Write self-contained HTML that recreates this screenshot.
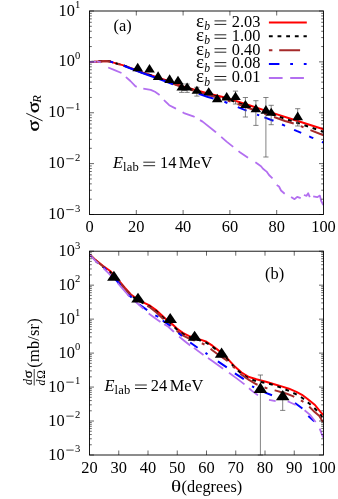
<!DOCTYPE html>
<html><head><meta charset="utf-8"><title>chart</title>
<style>svg{will-change:transform}html,body{margin:0;padding:0;background:#fff;}body{width:338px;height:499px;overflow:hidden;font-family:"Liberation Serif",serif;}</style>
</head><body>
<svg width="338" height="499" viewBox="0 0 338 499" style="display:block">
<rect width="338" height="499" fill="#fff"/>
<path d="M89.9 61.9 L94.0 61.8 L98.0 61.6 L102.0 61.2 L106.9 61.0 L110.5 61.6 L113.4 62.6 L123.5 65.4 L142.4 72.5 L166.0 80.3 L183.0 86.5 L208.0 93.5 L225.0 97.5 L250.0 105.5 L270.0 112.1 L297.0 120.8 L323.5 129.3" fill="none" stroke="#ff0000" stroke-width="2.0" stroke-linejoin="round" />
<path d="M89.9 61.9 L94.0 61.8 L98.0 61.6 L102.0 61.2 L106.9 61.0 L110.5 61.6 L113.4 62.6 L123.5 65.4 L142.4 72.6 L166.0 80.6 L183.0 87.0 L208.0 94.2 L225.0 98.5 L250.0 107.0 L270.0 113.8 L297.0 122.7 L323.5 131.8" fill="none" stroke="#000000" stroke-width="2.0" stroke-dasharray="3.8 4.85" stroke-linejoin="round" />
<path d="M89.9 61.9 L94.0 61.8 L98.0 61.6 L102.0 61.2 L106.9 61.0 L110.5 61.6 L113.4 62.6 L123.5 65.5 L142.4 72.8 L166.0 81.0 L183.0 87.5 L208.0 95.0 L225.0 99.5 L250.0 108.5 L270.0 115.5 L285.0 121.0 L297.0 124.5 L310.0 130.0 L323.5 135.2" fill="none" stroke="#a52a2a" stroke-width="2.0" stroke-dasharray="20.7 7.5 3 7.5" stroke-linejoin="round" />
<path d="M110.4 61.6 L110.5 61.6 L113.2 62.5M123.7 65.7 L142.4 73.0 L166.0 81.5 L173.0 84.4M183.0 88.5 L185.5 89.3M198.7 93.8 L208.0 97.0 L213.5 98.6M224.4 101.8 L225.0 102.0 L227.4 103.0M237.8 107.1 L246.6 110.6M257.0 114.6 L259.2 115.4M264.4 117.4 L272.0 120.2 L273.5 120.8M282.0 124.5 L283.7 125.2 L285.0 125.8M294.1 129.8 L297.2 131.2 L301.2 132.9M309.2 136.4 L311.2 137.3 L313.3 138.2M321.9 141.9 L323.5 142.6" fill="none" stroke="#0000ff" stroke-width="2.0" stroke-linejoin="round"/>
<path d="M89.9 61.9 L94.0 61.8 L96.4 61.7M97.1 61.7 L98.0 61.7 L100.8 62.3M108.2 67.5 L114.0 69.8 L121.5 73.0M125.9 77.0 L126.0 77.1 L130.4 81.0 L135.3 86.2 L136.7 86.8M143.3 88.7 L150.7 89.9 L155.0 91.8 L159.6 94.9M164.0 100.0 L164.8 100.9 L169.2 105.2 L175.4 108.4 L176.0 108.7M182.6 112.2 L184.0 113.1 L193.3 116.3 L194.6 117.0M200.0 120.1 L202.6 121.6 L215.9 132.3 L216.0 132.4M221.2 136.9 L226.6 141.6 L233.2 146.9M238.5 151.1 L239.9 152.2 L248.0 157.8M255.4 162.3 L261.0 166.2 L263.0 168.8 L266.6 171.6 L269.0 175.0 L272.5 178.3M276.7 185.0 L279.0 186.5 L281.0 190.5 L284.7 193.7M291.1 196.9 L294.6 199.2 L297.2 196.8 L300.7 198.2M303.9 195.0 L306.6 195.8 L308.2 193.3 L309.8 197.2M313.2 196.4 L317.2 197.2 L319.9 195.6 L321.2 201.0 L323.3 205.0" fill="none" stroke="#b36ff0" stroke-width="1.8" stroke-linejoin="round"/>
<path d="M181.7 84.0V92.4M179.1 84.0h5.2M179.1 92.4h5.2" stroke="#5a5a5a" stroke-width="0.75" fill="none"/>
<path d="M187.1 84.0V92.4M184.5 84.0h5.2M184.5 92.4h5.2" stroke="#5a5a5a" stroke-width="0.75" fill="none"/>
<path d="M196.9 87.3V96.1M194.3 87.3h5.2M194.3 96.1h5.2" stroke="#5a5a5a" stroke-width="0.75" fill="none"/>
<path d="M235.5 91.1V104.0M232.9 91.1h5.2M232.9 104.0h5.2" stroke="#5a5a5a" stroke-width="0.75" fill="none"/>
<path d="M245.4 97.5V117.0M242.8 97.5h5.2M242.8 117.0h5.2" stroke="#5a5a5a" stroke-width="0.75" fill="none"/>
<path d="M255.9 100.7V125.4M253.3 100.7h5.2M253.3 125.4h5.2" stroke="#5a5a5a" stroke-width="0.75" fill="none"/>
<path d="M265.9 97.5V157.0M263.3 97.5h5.2M263.3 157.0h5.2" stroke="#5a5a5a" stroke-width="0.75" fill="none"/>
<path d="M271.2 105.3V124.7M268.6 105.3h5.2M268.6 124.7h5.2" stroke="#5a5a5a" stroke-width="0.75" fill="none"/>
<path d="M297.7 108.7V126.0M295.1 108.7h5.2M295.1 126.0h5.2" stroke="#5a5a5a" stroke-width="0.75" fill="none"/>
<path d="M132.4 71.3L143.0 71.3L137.7 62.7Z" fill="#000"/>
<path d="M144.2 72.5L154.8 72.5L149.5 63.9Z" fill="#000"/>
<path d="M152.8 79.9L163.4 79.9L158.1 71.3Z" fill="#000"/>
<path d="M164.3 83.1L174.9 83.1L169.6 74.2Z" fill="#000"/>
<path d="M172.7 83.9L183.3 83.9L178.0 75.7Z" fill="#000"/>
<path d="M176.4 90.4L187.0 90.4L181.7 82.5Z" fill="#000"/>
<path d="M181.8 90.4L192.4 90.4L187.1 82.5Z" fill="#000"/>
<path d="M191.6 93.8L202.2 93.8L196.9 85.7Z" fill="#000"/>
<path d="M203.4 95.3L214.0 95.3L208.7 87.2Z" fill="#000"/>
<path d="M211.9 102.3L222.5 102.3L217.2 93.8Z" fill="#000"/>
<path d="M221.4 100.4L232.0 100.4L226.7 92.1Z" fill="#000"/>
<path d="M230.2 100.0L240.8 100.0L235.5 91.8Z" fill="#000"/>
<path d="M240.1 108.1L250.7 108.1L245.4 100.0Z" fill="#000"/>
<path d="M250.6 112.2L261.2 112.2L255.9 104.0Z" fill="#000"/>
<path d="M260.6 113.7L271.2 113.7L265.9 105.1Z" fill="#000"/>
<path d="M265.9 115.7L276.5 115.7L271.2 107.7Z" fill="#000"/>
<path d="M292.4 120.2L303.0 120.2L297.7 111.4Z" fill="#000"/>
<rect x="89.5" y="11.0" width="234.00" height="203.50" fill="none" stroke="#000" stroke-width="0.9"/>
<path d="M89.5 214.50h4.5 M323.5 214.50h-4.5 M89.5 199.19h2.3 M323.5 199.19h-2.3 M89.5 190.23h2.3 M323.5 190.23h-2.3 M89.5 183.87h2.3 M323.5 183.87h-2.3 M89.5 178.94h2.3 M323.5 178.94h-2.3 M89.5 174.91h2.3 M323.5 174.91h-2.3 M89.5 171.51h2.3 M323.5 171.51h-2.3 M89.5 168.56h2.3 M323.5 168.56h-2.3 M89.5 165.95h2.3 M323.5 165.95h-2.3 M89.5 163.62h4.5 M323.5 163.62h-4.5 M89.5 148.31h2.3 M323.5 148.31h-2.3 M89.5 139.35h2.3 M323.5 139.35h-2.3 M89.5 133.00h2.3 M323.5 133.00h-2.3 M89.5 128.06h2.3 M323.5 128.06h-2.3 M89.5 124.04h2.3 M323.5 124.04h-2.3 M89.5 120.63h2.3 M323.5 120.63h-2.3 M89.5 117.68h2.3 M323.5 117.68h-2.3 M89.5 115.08h2.3 M323.5 115.08h-2.3 M89.5 112.75h4.5 M323.5 112.75h-4.5 M89.5 97.44h2.3 M323.5 97.44h-2.3 M89.5 88.48h2.3 M323.5 88.48h-2.3 M89.5 82.12h2.3 M323.5 82.12h-2.3 M89.5 77.19h2.3 M323.5 77.19h-2.3 M89.5 73.16h2.3 M323.5 73.16h-2.3 M89.5 69.76h2.3 M323.5 69.76h-2.3 M89.5 66.81h2.3 M323.5 66.81h-2.3 M89.5 64.20h2.3 M323.5 64.20h-2.3 M89.5 61.88h4.5 M323.5 61.88h-4.5 M89.5 46.56h2.3 M323.5 46.56h-2.3 M89.5 37.60h2.3 M323.5 37.60h-2.3 M89.5 31.25h2.3 M323.5 31.25h-2.3 M89.5 26.31h2.3 M323.5 26.31h-2.3 M89.5 22.29h2.3 M323.5 22.29h-2.3 M89.5 18.88h2.3 M323.5 18.88h-2.3 M89.5 15.93h2.3 M323.5 15.93h-2.3 M89.5 13.33h2.3 M323.5 13.33h-2.3 M89.5 11.00h4.5 M323.5 11.00h-4.5 M136.30 214.5v-4.5 M136.30 11.0v4.5 M183.10 214.5v-4.5 M183.10 11.0v4.5 M229.90 214.5v-4.5 M229.90 11.0v4.5 M276.70 214.5v-4.5 M276.70 11.0v4.5" stroke="#000" stroke-width="0.6" fill="none"/>
<path d="M268.9 22.4H306.8" stroke="#ff0000" stroke-width="2" fill="none"/>
<text x="195.90" y="26.70" text-anchor="start" font-family="Liberation Serif, serif" font-size="19">&#949;</text>
<text x="204.30" y="30.00" text-anchor="start" font-family="Liberation Serif, serif" font-size="11.6" font-style="italic">b</text>
<path d="M214.5 20.90H226.3M214.5 24.40H226.3" stroke="#000" stroke-width="0.85" fill="none"/>
<text x="260.40" y="26.70" text-anchor="end" font-family="Liberation Serif, serif" font-size="16.4">2.03</text>
<path d="M268.9 36.3H306.8" stroke="#000000" stroke-width="2" stroke-dasharray="3.8 4.85" fill="none"/>
<text x="195.90" y="40.60" text-anchor="start" font-family="Liberation Serif, serif" font-size="19">&#949;</text>
<text x="204.30" y="43.90" text-anchor="start" font-family="Liberation Serif, serif" font-size="11.6" font-style="italic">b</text>
<path d="M214.5 34.80H226.3M214.5 38.30H226.3" stroke="#000" stroke-width="0.85" fill="none"/>
<text x="260.40" y="40.60" text-anchor="end" font-family="Liberation Serif, serif" font-size="16.4">1.00</text>
<path d="M268.9 50.2H306.8" stroke="#a52a2a" stroke-width="2" stroke-dasharray="3.5 6.8 20.9 7.5" fill="none"/>
<text x="195.90" y="54.50" text-anchor="start" font-family="Liberation Serif, serif" font-size="19">&#949;</text>
<text x="204.30" y="57.80" text-anchor="start" font-family="Liberation Serif, serif" font-size="11.6" font-style="italic">b</text>
<path d="M214.5 48.70H226.3M214.5 52.20H226.3" stroke="#000" stroke-width="0.85" fill="none"/>
<text x="260.40" y="54.50" text-anchor="end" font-family="Liberation Serif, serif" font-size="16.4">0.40</text>
<path d="M268.9 64.1H306.8" stroke="#0000ff" stroke-width="2" stroke-dasharray="10.5 10.8 2.8 10.8 2.8 10.8" fill="none"/>
<text x="195.90" y="68.40" text-anchor="start" font-family="Liberation Serif, serif" font-size="19">&#949;</text>
<text x="204.30" y="71.70" text-anchor="start" font-family="Liberation Serif, serif" font-size="11.6" font-style="italic">b</text>
<path d="M214.5 62.60H226.3M214.5 66.10H226.3" stroke="#000" stroke-width="0.85" fill="none"/>
<text x="260.40" y="68.40" text-anchor="end" font-family="Liberation Serif, serif" font-size="16.4">0.08</text>
<path d="M268.9 78.0H306.8" stroke="#b36ff0" stroke-width="2" stroke-dasharray="13.7 7.6" fill="none"/>
<text x="195.90" y="82.30" text-anchor="start" font-family="Liberation Serif, serif" font-size="19">&#949;</text>
<text x="204.30" y="85.60" text-anchor="start" font-family="Liberation Serif, serif" font-size="11.6" font-style="italic">b</text>
<path d="M214.5 76.50H226.3M214.5 80.00H226.3" stroke="#000" stroke-width="0.85" fill="none"/>
<text x="260.40" y="82.30" text-anchor="end" font-family="Liberation Serif, serif" font-size="16.4">0.01</text>
<text x="74.90" y="15.60" text-anchor="end" font-family="Liberation Serif, serif" font-size="16.4">10</text>
<text x="80.40" y="8.30" text-anchor="end" font-family="Liberation Serif, serif" font-size="10.6">1</text>
<text x="74.90" y="66.47" text-anchor="end" font-family="Liberation Serif, serif" font-size="16.4">10</text>
<text x="80.40" y="59.17" text-anchor="end" font-family="Liberation Serif, serif" font-size="10.6">0</text>
<text x="64.60" y="117.35" text-anchor="end" font-family="Liberation Serif, serif" font-size="16.4">10</text>
<path d="M66.3 107.85H73.7" stroke="#000" stroke-width="0.75" fill="none"/>
<text x="80.40" y="110.05" text-anchor="end" font-family="Liberation Serif, serif" font-size="10.6">1</text>
<text x="64.60" y="168.22" text-anchor="end" font-family="Liberation Serif, serif" font-size="16.4">10</text>
<path d="M66.3 158.72H73.7" stroke="#000" stroke-width="0.75" fill="none"/>
<text x="80.40" y="160.92" text-anchor="end" font-family="Liberation Serif, serif" font-size="10.6">2</text>
<text x="64.60" y="219.10" text-anchor="end" font-family="Liberation Serif, serif" font-size="16.4">10</text>
<path d="M66.3 209.60H73.7" stroke="#000" stroke-width="0.75" fill="none"/>
<text x="80.40" y="211.80" text-anchor="end" font-family="Liberation Serif, serif" font-size="10.6">3</text>
<text x="89.5" y="231.9" text-anchor="middle" font-family="Liberation Serif, serif" font-size="16.4">0</text>
<text x="136.3" y="231.9" text-anchor="middle" font-family="Liberation Serif, serif" font-size="16.4">20</text>
<text x="183.1" y="231.9" text-anchor="middle" font-family="Liberation Serif, serif" font-size="16.4">40</text>
<text x="229.9" y="231.9" text-anchor="middle" font-family="Liberation Serif, serif" font-size="16.4">60</text>
<text x="276.7" y="231.9" text-anchor="middle" font-family="Liberation Serif, serif" font-size="16.4">80</text>
<text x="323.5" y="231.9" text-anchor="middle" font-family="Liberation Serif, serif" font-size="16.4">100</text>
<text x="113.6" y="30.7" font-family="Liberation Serif, serif" font-size="16.4">(a)</text>
<text x="113.00" y="168.40" text-anchor="start" font-family="Liberation Serif, serif" font-size="16.4" font-style="italic">E</text>
<text x="123.00" y="170.70" text-anchor="start" font-family="Liberation Serif, serif" font-size="12.6" letter-spacing="0.25">lab</text>
<path d="M143.3 162.20H155.1M143.3 165.70H155.1" stroke="#000" stroke-width="0.85" fill="none"/>
<text x="160.10" y="168.40" text-anchor="start" font-family="Liberation Serif, serif" font-size="16.4">14</text>
<text x="178.70" y="168.40" text-anchor="start" font-family="Liberation Serif, serif" font-size="16.4">MeV</text>
<g transform="translate(38.7,0) rotate(-90)">
<text transform="translate(-131.60,0.00) scale(1.2,1)" text-anchor="start" font-family="Liberation Serif, serif" font-size="17.4" stroke="#000" stroke-width="0.3">&#963;</text>
<path d="M-120.9 3.9L-113.3 -12.4" stroke="#000" stroke-width="0.9" fill="none"/>
<text transform="translate(-113.00,0.00) scale(1.2,1)" text-anchor="start" font-family="Liberation Serif, serif" font-size="17.4" stroke="#000" stroke-width="0.3">&#963;</text>
<text x="-102.80" y="1.90" text-anchor="start" font-family="Liberation Serif, serif" font-size="12.6" font-style="italic">R</text>
</g>
<path d="M89.9 254.8 L95.4 259.9 L102.8 265.8 L110.2 271.0 L117.6 279.1 L125.0 288.0 L130.9 294.5 L137.0 298.8 L144.2 302.8 L150.1 305.7 L156.1 310.1 L162.0 315.6 L167.9 320.9 L172.4 324.3 L176.9 328.5 L182.8 332.9 L188.7 335.9 L194.6 337.9 L200.5 339.6 L206.5 341.8 L212.4 345.7 L219.4 351.1 L226.8 357.8 L234.2 365.9 L241.6 372.5 L249.0 377.0 L256.4 379.2 L262.0 380.7 L266.8 382.0 L274.2 384.2 L281.6 386.4 L289.0 388.7 L296.4 391.8 L302.0 394.8 L307.6 399.0 L315.0 405.0 L320.9 412.4 L323.3 415.0" fill="none" stroke="#ff0000" stroke-width="2.0" stroke-linejoin="round" />
<path d="M89.9 254.8 L95.4 260.9 L102.8 266.8 L110.2 272.0 L117.6 280.1 L125.0 289.0 L130.9 295.5 L137.0 299.8 L144.2 303.8 L150.1 306.7 L156.1 311.1 L162.0 316.6 L167.9 321.9 L172.4 325.3 L176.9 329.5 L182.8 333.9 L188.7 336.9 L194.6 338.9 L200.5 340.6 L206.5 342.8 L212.4 346.7 L219.4 352.1 L226.8 358.8 L234.2 366.9 L241.6 373.8 L249.0 378.5 L256.4 381.3 L266.1 383.0 L274.2 385.2 L281.6 387.9 L289.0 390.9 L295.8 394.2 L302.4 398.0 L308.3 402.8 L314.2 407.9 L320.2 413.8 L323.1 419.0" fill="none" stroke="#000000" stroke-width="2.0" stroke-dasharray="3.8 4.85" stroke-linejoin="round" />
<path d="M89.9 254.8 L95.4 260.1 L102.8 266.2 L110.2 271.7 L117.6 279.9 L125.0 288.9 L130.9 295.4 L137.0 299.9 L144.2 304.2 L150.1 307.5 L156.1 312.2 L162.0 317.8 L167.9 323.2 L172.4 326.6 L176.9 330.9 L182.8 335.4 L188.7 338.4 L194.6 340.6 L200.5 342.6 L206.5 345.4 L212.0 350.0 L219.4 355.5 L226.8 360.5 L234.2 367.6 L241.6 374.8 L249.0 379.9 L256.4 384.3 L266.1 388.0 L275.0 390.4 L286.8 393.8 L292.8 396.1 L300.2 399.9 L306.1 403.5 L309.8 407.2 L313.5 410.9 L319.4 416.1 L322.4 421.2 L323.6 425.7" fill="none" stroke="#a52a2a" stroke-width="2.0" stroke-dasharray="20.7 7.5 3 7.5" stroke-linejoin="round" />
<path d="M103.5 267.6 L106.5 270.4M115.4 279.4 L117.6 281.8 L120.5 285.1M128.0 294.4 L131.7 297.6M139.0 304.2 L147.2 310.1M155.3 315.3 L158.3 316.9M162.7 320.5 L169.4 325.2 L170.2 325.9M178.4 332.9 L182.0 335.9M190.2 342.5 L197.6 347.7M205.5 352.9 L206.5 353.6 L207.5 354.3M217.9 361.4 L226.8 367.4M234.9 373.3 L243.8 379.2M252.0 386.4 L254.2 387.3M264.6 392.4 L272.0 395.3M295.0 403.0 L302.4 408.5M308.3 416.0 L314.2 421.3" fill="none" stroke="#0000ff" stroke-width="2.0" stroke-linejoin="round"/>
<path d="M89.9 254.8 L95.4 260.8 L98.5 263.6M103.5 268.2 L110.2 274.9 L113.5 278.5M117.5 282.9 L117.6 283.0 L125.0 291.5 L129.4 296.5M134.0 300.5 L139.0 304.8 L143.5 308.8M148.7 313.6 L154.5 317.8 L160.5 322.0M164.2 324.2 L168.0 326.6 L173.5 331.5 L173.9 331.9M179.1 336.6 L184.5 341.0 L190.2 345.5M193.9 347.9 L203.5 355.0M208.0 358.0 L212.0 360.7 L223.1 368.8M229.0 372.7 L237.0 378.6 L244.5 384.4M249.0 388.3 L252.0 390.9 L257.9 395.3M269.0 399.8 L275.7 401.2M287.6 401.5 L288.2 401.5 L295.8 405.0M304.6 410.3 L309.8 414.6 L315.7 422.0M319.7 428.6 L323.1 437.5" fill="none" stroke="#b36ff0" stroke-width="1.8" stroke-linejoin="round"/>
<path d="M260.4 375.0V455.0M257.8 375.0h5.2M257.8 455.0h5.2" stroke="#5a5a5a" stroke-width="0.75" fill="none"/>
<path d="M282.7 392.0V410.4M280.1 392.0h5.2M280.1 410.4h5.2" stroke="#5a5a5a" stroke-width="0.75" fill="none"/>
<path d="M107.1 280.8L120.7 280.8L113.9 270.7Z" fill="#000"/>
<path d="M131.2 302.5L144.8 302.5L138.0 292.7Z" fill="#000"/>
<path d="M163.4 322.9L177.0 322.9L170.2 313.1Z" fill="#000"/>
<path d="M187.8 340.8L201.4 340.8L194.6 330.7Z" fill="#000"/>
<path d="M214.8 357.8L228.4 357.8L221.6 347.4Z" fill="#000"/>
<path d="M253.6 393.1L267.2 393.1L260.4 382.5Z" fill="#000"/>
<path d="M275.9 400.2L289.5 400.2L282.7 390.0Z" fill="#000"/>
<rect x="89.5" y="251.2" width="234.00" height="203.80" fill="none" stroke="#000" stroke-width="0.9"/>
<path d="M89.5 455.00h4.5 M323.5 455.00h-4.5 M89.5 444.78h2.3 M323.5 444.78h-2.3 M89.5 438.79h2.3 M323.5 438.79h-2.3 M89.5 434.55h2.3 M323.5 434.55h-2.3 M89.5 431.26h2.3 M323.5 431.26h-2.3 M89.5 428.57h2.3 M323.5 428.57h-2.3 M89.5 426.29h2.3 M323.5 426.29h-2.3 M89.5 424.33h2.3 M323.5 424.33h-2.3 M89.5 422.59h2.3 M323.5 422.59h-2.3 M89.5 421.03h4.5 M323.5 421.03h-4.5 M89.5 410.81h2.3 M323.5 410.81h-2.3 M89.5 404.83h2.3 M323.5 404.83h-2.3 M89.5 400.58h2.3 M323.5 400.58h-2.3 M89.5 397.29h2.3 M323.5 397.29h-2.3 M89.5 394.60h2.3 M323.5 394.60h-2.3 M89.5 392.33h2.3 M323.5 392.33h-2.3 M89.5 390.36h2.3 M323.5 390.36h-2.3 M89.5 388.62h2.3 M323.5 388.62h-2.3 M89.5 387.07h4.5 M323.5 387.07h-4.5 M89.5 376.84h2.3 M323.5 376.84h-2.3 M89.5 370.86h2.3 M323.5 370.86h-2.3 M89.5 366.62h2.3 M323.5 366.62h-2.3 M89.5 363.32h2.3 M323.5 363.32h-2.3 M89.5 360.64h2.3 M323.5 360.64h-2.3 M89.5 358.36h2.3 M323.5 358.36h-2.3 M89.5 356.39h2.3 M323.5 356.39h-2.3 M89.5 354.65h2.3 M323.5 354.65h-2.3 M89.5 353.10h4.5 M323.5 353.10h-4.5 M89.5 342.88h2.3 M323.5 342.88h-2.3 M89.5 336.89h2.3 M323.5 336.89h-2.3 M89.5 332.65h2.3 M323.5 332.65h-2.3 M89.5 329.36h2.3 M323.5 329.36h-2.3 M89.5 326.67h2.3 M323.5 326.67h-2.3 M89.5 324.39h2.3 M323.5 324.39h-2.3 M89.5 322.43h2.3 M323.5 322.43h-2.3 M89.5 320.69h2.3 M323.5 320.69h-2.3 M89.5 319.13h4.5 M323.5 319.13h-4.5 M89.5 308.91h2.3 M323.5 308.91h-2.3 M89.5 302.93h2.3 M323.5 302.93h-2.3 M89.5 298.68h2.3 M323.5 298.68h-2.3 M89.5 295.39h2.3 M323.5 295.39h-2.3 M89.5 292.70h2.3 M323.5 292.70h-2.3 M89.5 290.43h2.3 M323.5 290.43h-2.3 M89.5 288.46h2.3 M323.5 288.46h-2.3 M89.5 286.72h2.3 M323.5 286.72h-2.3 M89.5 285.17h4.5 M323.5 285.17h-4.5 M89.5 274.94h2.3 M323.5 274.94h-2.3 M89.5 268.96h2.3 M323.5 268.96h-2.3 M89.5 264.72h2.3 M323.5 264.72h-2.3 M89.5 261.42h2.3 M323.5 261.42h-2.3 M89.5 258.74h2.3 M323.5 258.74h-2.3 M89.5 256.46h2.3 M323.5 256.46h-2.3 M89.5 254.49h2.3 M323.5 254.49h-2.3 M89.5 252.75h2.3 M323.5 252.75h-2.3 M89.5 251.20h4.5 M323.5 251.20h-4.5 M118.75 455.0v-4.5 M118.75 251.2v4.5 M148.00 455.0v-4.5 M148.00 251.2v4.5 M177.25 455.0v-4.5 M177.25 251.2v4.5 M206.50 455.0v-4.5 M206.50 251.2v4.5 M235.75 455.0v-4.5 M235.75 251.2v4.5 M265.00 455.0v-4.5 M265.00 251.2v4.5 M294.25 455.0v-4.5 M294.25 251.2v4.5" stroke="#000" stroke-width="0.6" fill="none"/>
<text x="74.90" y="255.80" text-anchor="end" font-family="Liberation Serif, serif" font-size="16.4">10</text>
<text x="80.40" y="248.50" text-anchor="end" font-family="Liberation Serif, serif" font-size="10.6">3</text>
<text x="74.90" y="289.77" text-anchor="end" font-family="Liberation Serif, serif" font-size="16.4">10</text>
<text x="80.40" y="282.47" text-anchor="end" font-family="Liberation Serif, serif" font-size="10.6">2</text>
<text x="74.90" y="323.73" text-anchor="end" font-family="Liberation Serif, serif" font-size="16.4">10</text>
<text x="80.40" y="316.43" text-anchor="end" font-family="Liberation Serif, serif" font-size="10.6">1</text>
<text x="74.90" y="357.70" text-anchor="end" font-family="Liberation Serif, serif" font-size="16.4">10</text>
<text x="80.40" y="350.40" text-anchor="end" font-family="Liberation Serif, serif" font-size="10.6">0</text>
<text x="64.60" y="391.67" text-anchor="end" font-family="Liberation Serif, serif" font-size="16.4">10</text>
<path d="M66.3 382.17H73.7" stroke="#000" stroke-width="0.75" fill="none"/>
<text x="80.40" y="384.37" text-anchor="end" font-family="Liberation Serif, serif" font-size="10.6">1</text>
<text x="64.60" y="425.63" text-anchor="end" font-family="Liberation Serif, serif" font-size="16.4">10</text>
<path d="M66.3 416.13H73.7" stroke="#000" stroke-width="0.75" fill="none"/>
<text x="80.40" y="418.33" text-anchor="end" font-family="Liberation Serif, serif" font-size="10.6">2</text>
<text x="64.60" y="459.60" text-anchor="end" font-family="Liberation Serif, serif" font-size="16.4">10</text>
<path d="M66.3 450.10H73.7" stroke="#000" stroke-width="0.75" fill="none"/>
<text x="80.40" y="452.30" text-anchor="end" font-family="Liberation Serif, serif" font-size="10.6">3</text>
<text x="89.5" y="472.5" text-anchor="middle" font-family="Liberation Serif, serif" font-size="16.4">20</text>
<text x="118.8" y="472.5" text-anchor="middle" font-family="Liberation Serif, serif" font-size="16.4">30</text>
<text x="148.0" y="472.5" text-anchor="middle" font-family="Liberation Serif, serif" font-size="16.4">40</text>
<text x="177.2" y="472.5" text-anchor="middle" font-family="Liberation Serif, serif" font-size="16.4">50</text>
<text x="206.5" y="472.5" text-anchor="middle" font-family="Liberation Serif, serif" font-size="16.4">60</text>
<text x="235.8" y="472.5" text-anchor="middle" font-family="Liberation Serif, serif" font-size="16.4">70</text>
<text x="265.0" y="472.5" text-anchor="middle" font-family="Liberation Serif, serif" font-size="16.4">80</text>
<text x="294.2" y="472.5" text-anchor="middle" font-family="Liberation Serif, serif" font-size="16.4">90</text>
<text x="323.5" y="472.5" text-anchor="middle" font-family="Liberation Serif, serif" font-size="16.4">100</text>
<text x="265.0" y="279.4" font-family="Liberation Serif, serif" font-size="16.4">(b)</text>
<text x="104.50" y="391.20" text-anchor="start" font-family="Liberation Serif, serif" font-size="16.4" font-style="italic">E</text>
<text x="114.50" y="393.50" text-anchor="start" font-family="Liberation Serif, serif" font-size="12.6" letter-spacing="0.25">lab</text>
<path d="M135.0 385.00H146.8M135.0 388.50H146.8" stroke="#000" stroke-width="0.85" fill="none"/>
<text x="150.70" y="391.20" text-anchor="start" font-family="Liberation Serif, serif" font-size="16.4">24</text>
<text x="169.70" y="391.20" text-anchor="start" font-family="Liberation Serif, serif" font-size="16.4">MeV</text>
<g transform="translate(38.6,0) rotate(-90)">
<text x="-384.90" y="-6.90" text-anchor="start" font-family="Liberation Serif, serif" font-size="12" font-style="italic">d</text>
<text transform="translate(-378.30,-6.90) scale(1.2,1)" text-anchor="start" font-family="Liberation Serif, serif" font-size="12.2" stroke="#000" stroke-width="0.25">&#963;</text>
<path d="M-385.5 -4.4H-369" stroke="#000" stroke-width="0.75" fill="none"/>
<text x="-385.60" y="6.00" text-anchor="start" font-family="Liberation Serif, serif" font-size="12" font-style="italic">d</text>
<text x="-378.80" y="6.00" text-anchor="start" font-family="Liberation Serif, serif" font-size="11.6">&#937;</text>
<text x="-367.70" y="0.00" text-anchor="start" font-family="Liberation Serif, serif" font-size="16.4" textLength="49.4" lengthAdjust="spacing">(mb/sr)</text>
</g>
<text transform="translate(170.90,491.90) scale(1.22,1)" text-anchor="start" font-family="Liberation Serif, serif" font-size="17.4">&#952;</text>
<text x="181.60" y="491.90" text-anchor="start" font-family="Liberation Serif, serif" font-size="16.3">(degrees)</text>
</svg>
</body></html>
